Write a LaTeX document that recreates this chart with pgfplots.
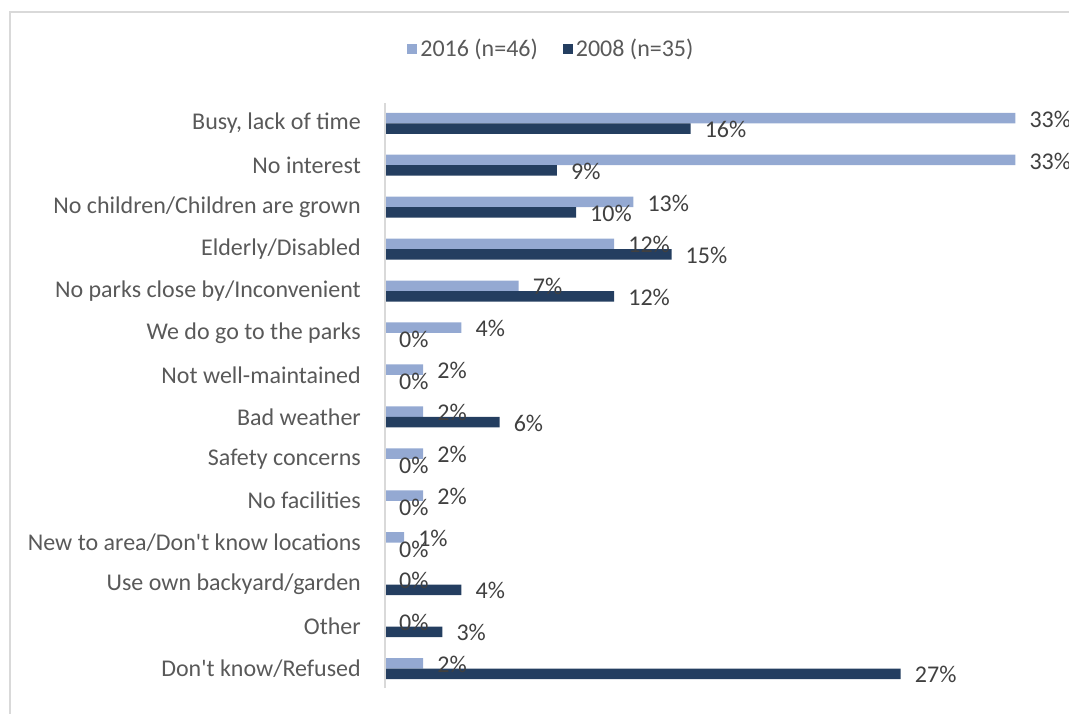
\documentclass[border=0pt]{standalone}
\usepackage{pgfplots}
\pgfplotsset{compat=1.18}
\usepackage{fontspec}
\setmainfont{Carlito}[Ligatures=TeXOff]
\definecolor{light}{RGB}{148,169,210}
\definecolor{dark}{RGB}{36,62,96}
\definecolor{txt}{RGB}{89,89,89}
\definecolor{lbl}{RGB}{64,64,64}
\definecolor{frame}{RGB}{217,217,217}
\begin{document}
\fontsize{24}{28}\selectfont
\begin{tikzpicture}
\draw[frame, line width=2pt] (10pt,-5pt) -- (10pt,701pt) -- (1080pt,701pt);
\begin{axis}[
  at={(385pt,25pt)}, anchor=south west,
  scale only axis, width=684pt, height=585pt,
  xbar=0pt, bar width=10.5pt,
  xmin=0, xmax=35.81, ymin=-0.484, ymax=13.465, y dir=reverse,
  axis line style={draw=none},
  xtick=\empty,
  ytick={0,...,13},
  yticklabels={{Busy, lack of time},{No interest},{No children/Children are grown},{Elderly/Disabled},{No parks close by/Inconvenient},{We do go to the parks},{Not well-maintained},{Bad weather},{Safety concerns},{No facilities},{New to area/Don't know locations},{Use own backyard/garden},{Other},{Don't know/Refused}},
  major tick length=0pt,
  yticklabel style={anchor=east, inner sep=0pt, xshift=-24pt, text=txt, font=\fontsize{24}{28}\selectfont},
  /pgf/number format/assume math mode=true,
  point meta=x,
  nodes near coords={\pgfmathprintnumber{\pgfplotspointmeta}\%},
  every node near coord/.append style={anchor=west, inner sep=0pt, xshift=14pt, yshift=-1pt, text=lbl, font=\fontsize{24}{28}\selectfont},
  clip=false,
  legend columns=2,
  legend style={at={(0.244,1.092)}, anchor=center, draw=none, fill=none, text=txt, font=\fontsize{24}{28}\selectfont,
    /tikz/every even column/.append style={column sep=22pt},
    nodes={inner sep=3pt}},
  legend image code/.code={\fill[#1] (0pt,-5pt) rectangle (10pt,5pt);},
]
\addplot[fill=light, draw=none, bar shift=5.25pt] coordinates {
(33,0) (33,1) (13,2) (12,3) (7,4) (4,5) (2,6) (2,7) (2,8) (2,9) (1,10) (0,11) (0,12) (2,13)};
\addplot[fill=dark, draw=none, bar shift=-5.25pt] coordinates {
(16,0) (9,1) (10,2) (15,3) (12,4) (0,5) (0,6) (6,7) (0,8) (0,9) (0,10) (4,11) (3,12) (27,13)};
\legend{2016 (n=46), 2008 (n=35)}
\draw[frame, line width=2pt] (rel axis cs:0,0) -- (rel axis cs:0,1);
\end{axis}
\pgfresetboundingbox
\path[use as bounding box] (0pt,0pt) rectangle (1069pt,713pt);
\end{tikzpicture}
\end{document}
